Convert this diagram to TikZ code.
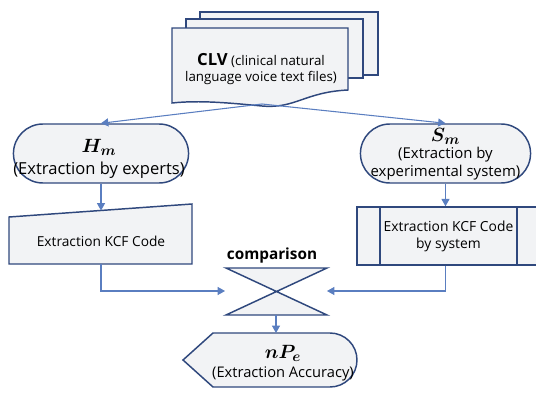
\documentclass[tikz,border=0pt]{standalone}
\usepackage{fontspec}
\setmainfont{Open Sans}
\usepackage{amsmath}
\usepackage{bm}
\usetikzlibrary{arrows.meta,shapes.misc}
\definecolor{bord}{RGB}{47,72,125}
\definecolor{conn}{RGB}{90,126,192}
\definecolor{shfill}{RGB}{242,243,245}
\newcommand{\bigmath}[1]{{\fontsize{15}{16}\selectfont$\bm{#1}$}}
\tikzset{
  shp/.style={draw=bord, line width=1.1pt, fill=shfill},
  conline/.style={draw=conn, line width=0.8pt},
  conarrow/.style={conline, -{Triangle[width=6pt,length=5.5pt]}},
  txt/.style={align=center, font=\fontsize{10}{12.5}\selectfont, inner sep=0pt},
}
\begin{document}
\begin{tikzpicture}[x=0.75pt,y=-0.75pt]
\useasboundingbox (0,0) rectangle (536,396);
% CLV multi-document
\path[shp] (200,12) rectangle (378,75);
\path[shp] (186,19) rectangle (363,78);
\path[shp] (172,28) -- (348,28) -- (348,90)
   .. controls (305,92) and (295,109) .. (262,106)
   .. controls (230,103) and (200,100) .. (172,103) -- cycle;
\node[txt] (clv) at (261,69) {{\fontsize{12.5}{16}\selectfont\bfseries CLV} (clinical natural\\language voice text files)};
\coordinate (clvb) at (262,104);
% H_m
\node[shp, rounded rectangle, minimum width=138pt, minimum height=44.25pt] (hm) at (101,153.5) {};
\node[txt, font=\fontsize{12.4}{16.5}\selectfont] (hmt) at (99,159) {\bigmath{H_m}\\(Extraction by experts)};
% S_m
\node[shp, rounded rectangle, minimum width=134.25pt, minimum height=44.25pt] (sm) at (445.5,153.5) {};
\node[txt, font=\fontsize{11.2}{13.2}\selectfont] (smt) at (445.5,154) {\bigmath{S_m}\\(Extraction by\\experimental system)};
% left manual input
\path[shp] (9,217) -- (192,204) -- (192,264) -- (9,264) -- cycle;
\node[txt, font=\fontsize{10.3}{12.5}\selectfont] (kcfl) at (101,241) {Extraction KCF Code};
\coordinate (kcfltop) at (101,210.5);
\coordinate (kcflbot) at (101,264);
% right predefined process
\node[shp, rectangle, minimum width=137.25pt, minimum height=43.5pt, inner sep=0pt] (kcfr) at (448.5,236) {};
\draw[bord, line width=1.1pt] (380,207) -- (380,265) (517,207) -- (517,265);
\node[txt, font=\fontsize{10.4}{12.8}\selectfont] (kcfrt) at (448.5,236.5) {Extraction KCF Code\\by system};
% collate
\path[shp] (226,268) -- (327,268) -- (226,315) -- (327,315) -- cycle;
\node[font=\fontsize{11.5}{12}\selectfont\bfseries, inner sep=0pt] (cmp) at (272,256) {comparison};
\coordinate (colL) at (225,291);
\coordinate (colR) at (327,291);
\coordinate (colB) at (276,315);
% display
\path[shp] (183,360) -- (213,333) -- (330,333) arc[start angle=90, end angle=-90, radius=20.25pt] -- (213,387) -- cycle;
\node[txt, font=\fontsize{11}{14.5}\selectfont] (npe) at (283,363) {\bigmath{nP_e}\\(Extraction Accuracy)};
\coordinate (disptop) at (276,333);
% connectors
\draw[conarrow] (clvb) -- (hm.north);
\draw[conarrow] (clvb) -- (sm.north);
\draw[conarrow] (hm.south) -- (kcfltop);
\draw[conarrow] (sm.south) -- (sm.south |- kcfr.north);
\draw[conarrow] (kcflbot) |- (colL);
\draw[conarrow] (sm.south |- kcfr.south) |- (colR);
\draw[conarrow] (colB) -- (disptop);
\end{tikzpicture}
\end{document}
